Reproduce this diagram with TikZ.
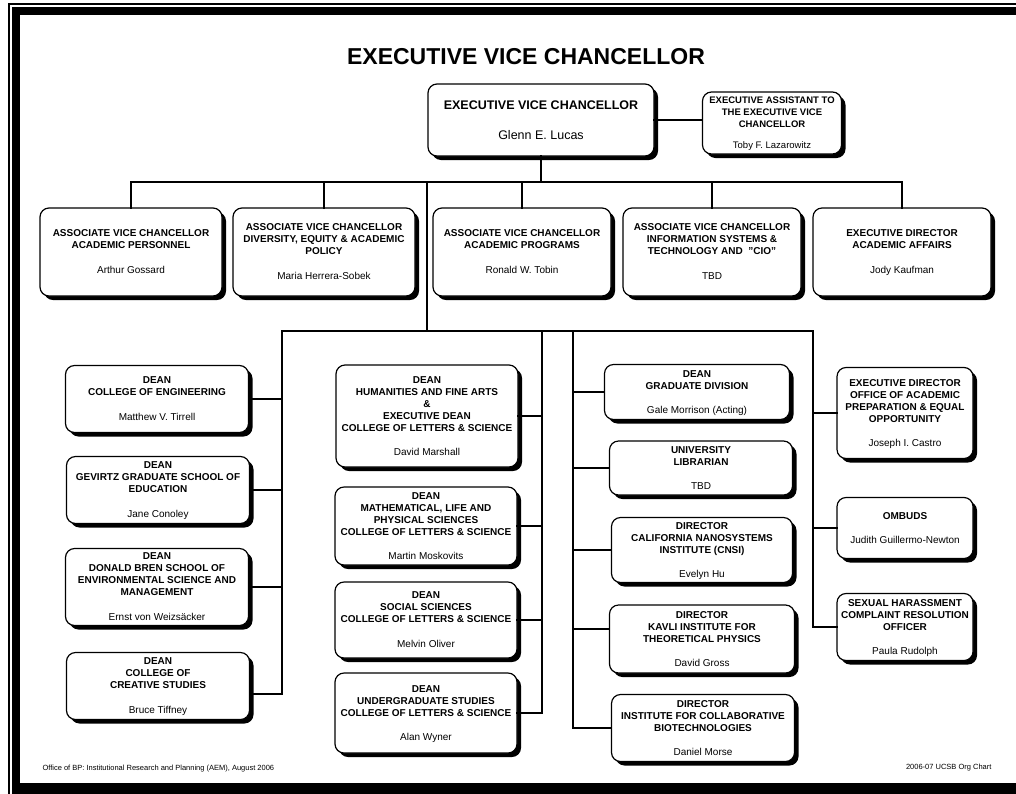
\documentclass[tikz,border=0pt]{standalone}
\usepackage{fontspec}
\setmainfont{Liberation Sans}
\usetikzlibrary{shadows}
\begin{document}
\begin{tikzpicture}[x=1pt,y=-1pt,
    box/.style={draw,line width=1.2pt,rounded corners=9pt,fill=white,align=center,inner sep=0pt,text depth=0pt,
        font=\fontsize{10}{12}\selectfont\bfseries,
        drop shadow={shadow xshift=4pt,shadow yshift=-4pt,opacity=1,fill=black}},
    wire/.style={line width=2.5pt,line cap=rect}]
            \useasboundingbox (0,0) rectangle (1016,793);
            \draw[line width=2pt] (1020,4) -- (9,4) -- (9,797);
            \draw[line width=8pt] (1020,11) -- (16,11) -- (16,790);
            \fill (12,783) rectangle (1020,797);
            \node[font=\fontsize{23}{27}\selectfont\bfseries] (title) at (526,57) {EXECUTIVE VICE CHANCELLOR};
            \node[box,minimum width=226,minimum height=72,font=\fontsize{12.5}{15}\selectfont\bfseries] (evc) at (541,120) {EXECUTIVE VICE CHANCELLOR\\[15pt]\mdseries Glenn E. Lucas};
            \node[box,minimum width=139,minimum height=62,font=\fontsize{9.5}{12}\selectfont\bfseries] (assist) at (772,123) {EXECUTIVE ASSISTANT TO\\THE EXECUTIVE VICE\\CHANCELLOR\\[9pt]\mdseries Toby F. Lazarowitz};
            \node[box,minimum width=182,minimum height=88] (avcap) at (131,252) {ASSOCIATE VICE CHANCELLOR\\ACADEMIC PERSONNEL\\[13pt]\mdseries Arthur Gossard};
            \node[box,minimum width=182,minimum height=88] (avcdiv) at (324,252) {ASSOCIATE VICE CHANCELLOR\\DIVERSITY, EQUITY \& ACADEMIC\\POLICY\\[13pt]\mdseries Maria Herrera-Sobek};
            \node[box,minimum width=178,minimum height=88] (avcprog) at (522,252) {ASSOCIATE VICE CHANCELLOR\\ACADEMIC PROGRAMS\\[13pt]\mdseries Ronald W. Tobin};
            \node[box,minimum width=178,minimum height=88] (avcis) at (712,252) {ASSOCIATE VICE CHANCELLOR\\INFORMATION SYSTEMS \&\\TECHNOLOGY AND\ \ "CIO"\\[13pt]\mdseries TBD};
            \node[box,minimum width=178,minimum height=88] (edaa) at (902,252) {EXECUTIVE DIRECTOR\\ACADEMIC AFFAIRS\\[13pt]\mdseries Jody Kaufman};
            \node[box,minimum width=183,minimum height=67] (engr) at (157,399) {DEAN\\COLLEGE OF ENGINEERING\\[13pt]\mdseries Matthew V. Tirrell};
            \node[box,minimum width=183,minimum height=67] (gevirtz) at (158,490) {DEAN\\GEVIRTZ GRADUATE SCHOOL OF\\EDUCATION\\[13pt]\mdseries Jane Conoley};
            \node[box,minimum width=183,minimum height=77] (bren) at (157,587) {DEAN\\DONALD BREN SCHOOL OF\\ENVIRONMENTAL SCIENCE AND\\MANAGEMENT\\[13pt]\mdseries Ernst von Weizsäcker};
            \node[box,minimum width=183,minimum height=67] (ccs) at (158,686) {DEAN\\COLLEGE OF\\CREATIVE STUDIES\\[13pt]\mdseries Bruce Tiffney};
            \node[box,minimum width=182,minimum height=102] (hfa) at (427,416) {DEAN\\HUMANITIES AND FINE ARTS\\\&\\EXECUTIVE DEAN\\COLLEGE OF LETTERS \& SCIENCE\\[12pt]\mdseries David Marshall};
            \node[box,minimum width=182,minimum height=78] (mlps) at (426,526) {DEAN\\MATHEMATICAL, LIFE AND\\PHYSICAL SCIENCES\\COLLEGE OF LETTERS \& SCIENCE\\[12pt]\mdseries Martin Moskovits};
            \node[box,minimum width=182,minimum height=76] (socsci) at (426,620) {DEAN\\SOCIAL SCIENCES\\COLLEGE OF LETTERS \& SCIENCE\\[13pt]\mdseries Melvin Oliver};
            \node[box,minimum width=182,minimum height=80] (ugrad) at (426,713) {DEAN\\UNDERGRADUATE STUDIES\\COLLEGE OF LETTERS \& SCIENCE\\[12pt]\mdseries Alan Wyner};
            \node[box,minimum width=185,minimum height=55] (grad) at (697,392) {DEAN\\GRADUATE DIVISION\\[12pt]\mdseries Gale Morrison (Acting)};
            \node[box,minimum width=183,minimum height=54] (lib) at (701,468) {UNIVERSITY\\LIBRARIAN\\[12pt]\mdseries TBD};
            \node[box,minimum width=181,minimum height=65] (cnsi) at (702,550) {DIRECTOR\\CALIFORNIA NANOSYSTEMS\\INSTITUTE (CNSI)\\[12pt]\mdseries Evelyn Hu};
            \node[box,minimum width=185,minimum height=68] (kitp) at (702,639) {DIRECTOR\\KAVLI INSTITUTE FOR\\THEORETICAL PHYSICS\\[12pt]\mdseries David Gross};
            \node[box,minimum width=183,minimum height=67] (icb) at (703,728) {DIRECTOR\\INSTITUTE FOR COLLABORATIVE\\BIOTECHNOLOGIES\\[12pt]\mdseries Daniel Morse};
            \node[box,minimum width=136,minimum height=91] (oapeo) at (905,413) {EXECUTIVE DIRECTOR\\OFFICE OF ACADEMIC\\PREPARATION \& EQUAL\\OPPORTUNITY\\[12pt]\mdseries Joseph I. Castro};
            \node[box,minimum width=136,minimum height=61] (ombuds) at (905,528) {OMBUDS\\[12pt]\mdseries Judith Guillermo-Newton};
            \node[box,minimum width=136,minimum height=67] (shcro) at (905,627) {SEXUAL HARASSMENT\\COMPLAINT RESOLUTION\\OFFICER\\[12pt]\mdseries Paula Rudolph};
            \node[anchor=west,font=\fontsize{7.5}{9}\selectfont] (source) at (39,769) {Office of BP: Institutional Research and Planning (AEM), August 2006};
            \node[anchor=east,font=\fontsize{7.5}{9}\selectfont] (chart) at (995,768) {2006-07 UCSB Org Chart};
            \coordinate (bus) at (541,182);
            \coordinate (hub) at (427,331);
            \coordinate (c1) at (282,331);
            \coordinate (c2) at (542,331);
            \coordinate (c3) at (573,331);
            \coordinate (c4) at (813,331);
            \draw[wire] (evc.east) -- (evc.east -| assist.west);
            \draw[wire] (evc) -- (bus);
            \draw[wire] (avcap |- bus) -- (edaa |- bus);
            \foreach \n in {avcap,avcdiv,avcprog,avcis,edaa}
            \draw[wire] (\n |- bus) -- (\n);
            \draw[wire] (hub |- bus) -- (hub);
            \draw[wire] (c1) -- (c4);
            \draw[wire] (c1) -- (c1 |- ccs.-5) -- (ccs.-5);
            \draw[wire] (c2) -- (c2 |- ugrad) -- (ugrad);
            \draw[wire] (c3) -- (c3 |- icb) -- (icb);
            \draw[wire] (c4) -- (c4 |- shcro) -- (shcro);
            \foreach \n in {engr,gevirtz,bren}
            \draw[wire] (\n -| c1) -- (\n);
            \foreach \n in {hfa,mlps,socsci}
            \draw[wire] (\n -| c2) -- (\n);
            \foreach \n in {grad,lib,cnsi}
            \draw[wire] (\n -| c3) -- (\n);
            \draw[wire] (c3 |- kitp.174) -- (kitp.174);
            \foreach \n in {oapeo,ombuds}
            \draw[wire] (\n -| c4) -- (\n);
        \end{tikzpicture}
\end{document}
